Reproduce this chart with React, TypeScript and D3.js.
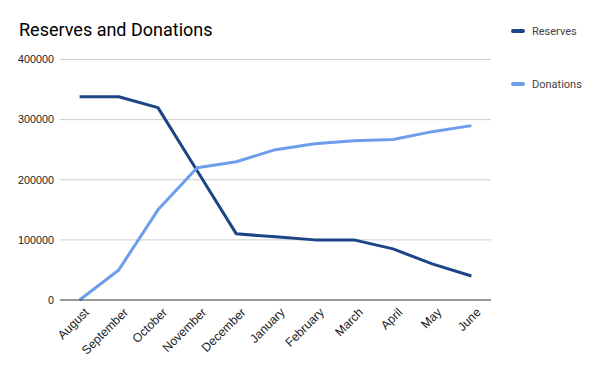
import { useMemo } from "react";
import * as d3 from "d3";

// Chart size and plot margins
const WIDTH = 600;
const HEIGHT = 371;
const MARGIN = { top: 59.5, right: 109, bottom: 71, left: 60 };

const months = [
  "August", "September", "October", "November", "December", "January",
  "February", "March", "April", "May", "June",
];
const reserves = [338000, 338000, 320000, 215000, 110000, 105000, 100000, 100000, 85000, 60000, 40000];
const donations = [0, 50000, 150000, 220000, 230000, 250000, 260000, 265000, 267000, 280000, 290000];
const yTicks = [0, 100000, 200000, 300000, 400000];

const series = [
  { name: "Reserves", color: "#1c4587", values: reserves },
  { name: "Donations", color: "#6d9eeb", values: donations },
];

const App = () => {
  const boundsWidth = WIDTH - MARGIN.left - MARGIN.right;
  const boundsHeight = HEIGHT - MARGIN.top - MARGIN.bottom;

  const xScale = useMemo(
    () => d3.scalePoint<string>().domain(months).range([0, boundsWidth]).padding(0.5),
    [boundsWidth]
  );
  const yScale = useMemo(
    () => d3.scaleLinear().domain([0, 400000]).range([boundsHeight, 0]),
    [boundsHeight]
  );

  const lineGen = d3
    .line<number>()
    .x((_, i) => xScale(months[i]) ?? 0)
    .y((d) => yScale(d));

  return (
    <svg width={WIDTH} height={HEIGHT} style={{ display: "block", position: "absolute", left: 0, top: 0 }}>
      <rect width={WIDTH} height={HEIGHT} fill="#fff" />
      <text x={19} y={36} fontFamily="Roboto" fontSize={18} fill="#000">
        Reserves and Donations
      </text>

      <g transform={`translate(${MARGIN.left},${MARGIN.top})`}>
        {/* gridlines and y labels */}
        {yTicks.map((t) => (
          <g key={t} transform={`translate(0,${yScale(t)})`}>
            {t > 0 && <line x2={boundsWidth} stroke="#cccccc" strokeWidth={1} />}
            <text x={-6} dy="0.35em" textAnchor="end" fontFamily="Liberation Sans, Arial" fontSize={10.8} fill="#222">
              {t}
            </text>
          </g>
        ))}

        {series.map((s) => (
          <path
            key={s.name}
            d={lineGen(s.values) || undefined}
            fill="none"
            stroke={s.color}
            strokeWidth={3}
            strokeLinejoin="round"
          />
        ))}

        {/* baseline */}
        <line y1={boundsHeight} y2={boundsHeight} x2={boundsWidth} stroke="#333" strokeWidth={1} />

        {/* x labels */}
        {months.map((m) => (
          <text
            key={m}
            transform={`translate(${(xScale(m) ?? 0) + 4},${boundsHeight + 7}) rotate(-45)`}
            textAnchor="end"
            dy="0.7em"
            fontFamily="Liberation Sans, Arial"
            fontSize={12.2}
            fill="#222"
          >
            {m}
          </text>
        ))}
      </g>

      {/* legend */}
      {series.map((s, i) => (
        <g key={s.name} transform={`translate(512,${31 + i * 53})`}>
          <line x1={1} x2={11} stroke={s.color} strokeWidth={4} strokeLinecap="round" />
          <text x={20} dy="0.35em" fontFamily="Roboto" fontSize={11} fill="#444">
            {s.name}
          </text>
        </g>
      ))}
    </svg>
  );
};

export default App;
